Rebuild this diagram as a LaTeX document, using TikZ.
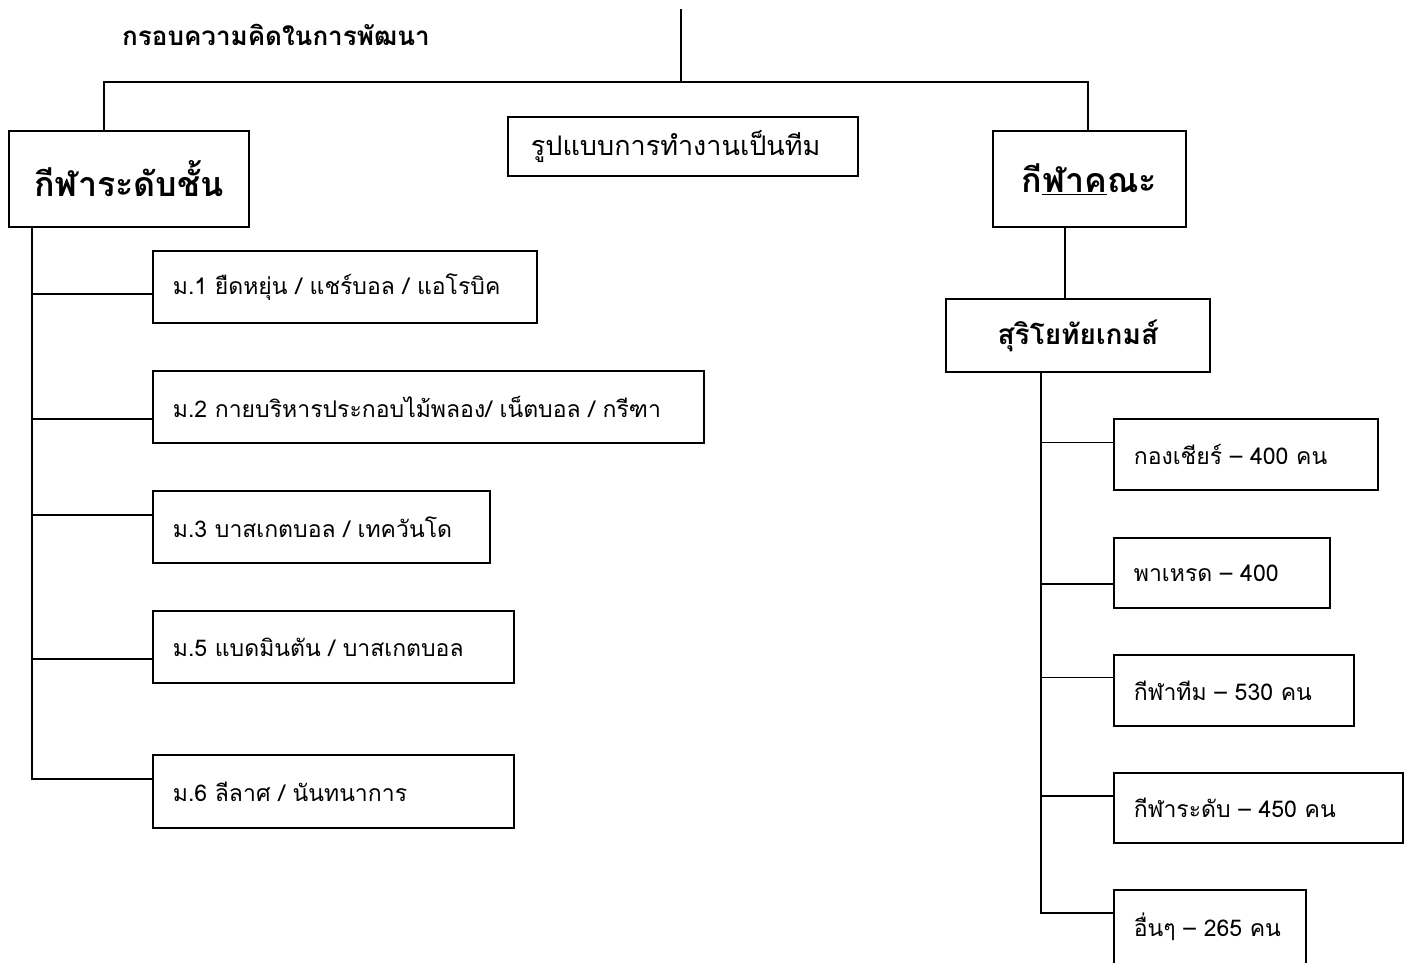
\documentclass[tikz,border=0pt]{standalone}
\usepackage{fontspec}
\newfontfamily\thaifont[Script=Thai, Ligatures=TeX]{Loma}
\usepackage{tikz}
\usetikzlibrary{positioning, calc}

\tikzset{
    item/.style={draw, line width=1.8pt, anchor=north west, inner xsep=20pt, inner ysep=0pt,
        align=left, font=\thaifont\fontsize{23}{27}\selectfont},
    headbox/.style={draw, line width=1.8pt, anchor=north west, inner sep=0pt,
        align=center, font=\thaifont\bfseries\fontsize{34}{40}\selectfont},
    link/.style={line width=1.8pt}
}

\begin{document}
\begin{tikzpicture}[x=1pt, y=-1pt]
        \useasboundingbox (0,0) rectangle (1410,963);

        % Title
        \node[font=\thaifont\bfseries\fontsize{26}{30}\selectfont] (title) at (276,35) {กรอบความคิดในการพัฒนา};

        % Top level boxes
        \node[headbox, minimum width=240pt, minimum height=96pt] (level) at (8,130) {กีฬาระดับชั้น};
        \node[item, font=\thaifont\fontsize{27}{31}\selectfont, text width=304pt, inner xsep=23pt, minimum height=59pt] (team) at (507,116) {รูปแบบการทำงานเป็นทีม};
        \node[headbox, minimum width=193pt, minimum height=96pt] (faculty) at (992,130) {กี\underline{ฬาค}ณะ};
        \node[headbox, font=\thaifont\bfseries\fontsize{28}{34}\selectfont, minimum width=264pt, minimum height=73pt] (games) at (945,298) {สุริโยทัยเกมส์};

        % Class level boxes
        \node[item, text width=344pt, minimum height=72pt] (m1) at (152,250) {ม.1 ยืดหยุ่น / แชร์บอล / แอโรบิค};
        \node[item, text width=511pt, minimum height=72pt] (m2) at (152,370) {ม.2 กายบริหารประกอบไม้พลอง/ เน็ตบอล / กรีฑา};
        \node[item, text width=297pt, minimum height=72pt] (m3) at (152,490) {ม.3 บาสเกตบอล / เทควันโด};
        \node[item, text width=321pt, minimum height=72pt] (m5) at (152,610) {ม.5 แบดมินตัน / บาสเกตบอล};
        \node[item, text width=321pt, minimum height=73pt] (m6) at (152,754) {ม.6 ลีลาศ / นันทนาการ};

        % Games boxes
        \node[item, text width=224pt, minimum height=71pt] (g1) at (1113,418) {กองเชียร์ -- 400 คน};
        \node[item, text width=176pt, minimum height=70pt] (g2) at (1113,537) {พาเหรด -- 400};
        \node[item, text width=200pt, minimum height=71pt] (g3) at (1113,654) {กีฬาทีม -- 530 คน};
        \node[item, text width=249pt, minimum height=70pt] (g4) at (1113,772) {กีฬาระดับ -- 450 คน};
        \node[item, text width=152pt, minimum height=74pt] (g5) at (1113,889) {อื่นๆ -- 265 คน};

        % Top tree
        \coordinate (top) at (681,9);
        \coordinate (bus) at (681,82);
        \draw[link] (top) -- (bus);
        \draw[link] ([xshift=96pt]level.north west) |- (bus) -| ([xshift=96pt]faculty.north west);
        \draw[link] ([xshift=73pt]faculty.south west) -- ([xshift=120pt]games.north west);

        % Left trunk
        \coordinate (ltrunk) at ([xshift=24pt]level.south west);
        \draw[link] (ltrunk) |- ([yshift=12.5pt]m6.west);
        \draw[link] ([yshift=-7pt]m1.west) -- ([yshift=-7pt]m1.west -| ltrunk);
        \draw[link] ([yshift=-12pt]m2.west) -- ([yshift=-12pt]m2.west -| ltrunk);
        \draw[link] ([yshift=12pt]m3.west) -- ([yshift=12pt]m3.west -| ltrunk);
        \draw[link] ([yshift=-12pt]m5.west) -- ([yshift=-12pt]m5.west -| ltrunk);

        % Right trunk
        \coordinate (rtrunk) at ([xshift=96pt]games.south west);
        \draw[link] (rtrunk) |- ([yshift=14pt]g5.west);
        \draw[link] ([yshift=12pt]g1.west) -- ([yshift=12pt]g1.west -| rtrunk);
        \draw[link] ([yshift=-11pt]g2.west) -- ([yshift=-11pt]g2.west -| rtrunk);
        \draw[link] ([yshift=13pt]g3.west) -- ([yshift=13pt]g3.west -| rtrunk);
        \draw[link] ([yshift=12pt]g4.west) -- ([yshift=12pt]g4.west -| rtrunk);
\end{tikzpicture}
\end{document}
